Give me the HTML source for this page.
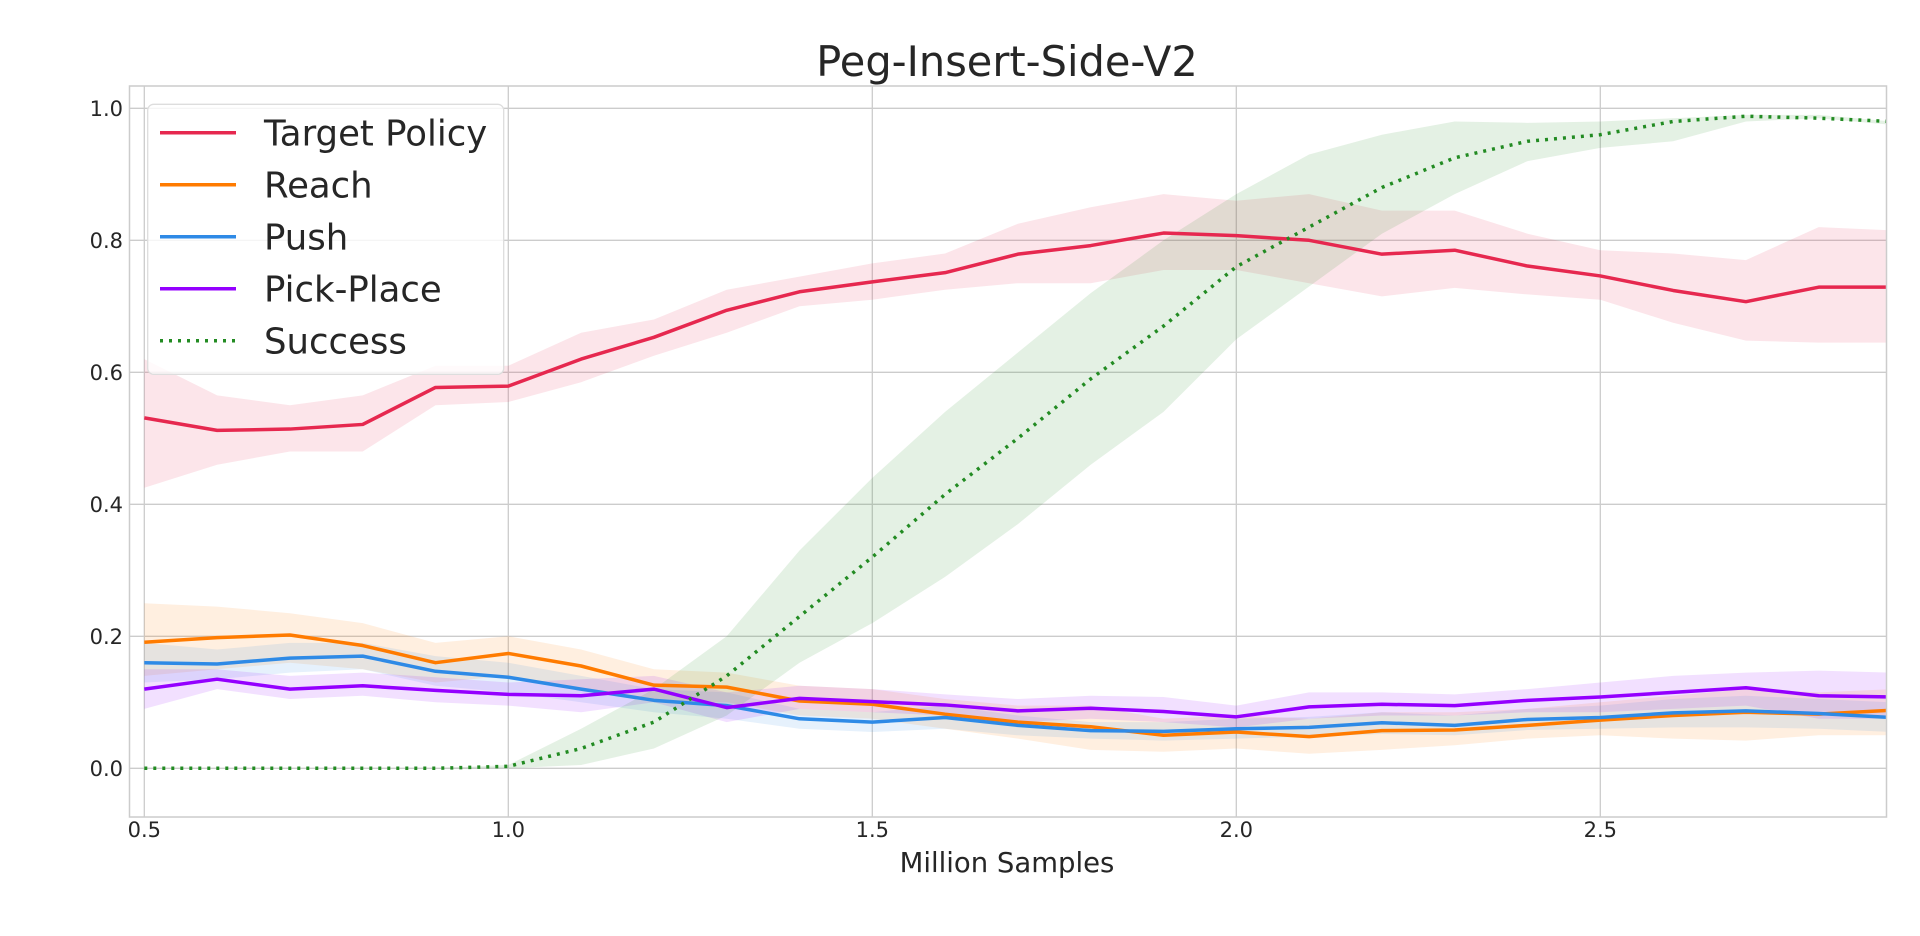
<!DOCTYPE html>
<html><head><meta charset="utf-8"><style>
html,body{margin:0;padding:0;background:#fff;}
svg{display:block;font-family:"DejaVu Sans","Liberation Sans",sans-serif;}
</style></head><body>
<svg id="chart" width="1920" height="936" viewBox="0 0 1920 936" xmlns="http://www.w3.org/2000/svg">
<defs><clipPath id="plotclip"><rect x="129.5" y="86" width="1757" height="731"/></clipPath></defs>
<text x="1007" y="76" text-anchor="middle" font-size="41.5" fill="#262626">Peg-Insert-Side-V2</text>
<text x="1007" y="872" text-anchor="middle" font-size="27.5" fill="#262626">Million Samples</text>
<g id="grid"></g>
<g id="bands" clip-path="url(#plotclip)"></g>
<g id="lines" clip-path="url(#plotclip)"></g>
<rect x="129.5" y="86" width="1757" height="731" fill="none" stroke="#cccccc" stroke-width="1.5"/>
<g id="ticks"></g>
<g id="legend"></g>
</svg>
<script>
const xs = [0.5,0.6,0.7,0.8,0.9,1.0,1.1,1.2,1.3,1.4,1.5,1.6,1.7,1.8,1.9,2.0,2.1,2.2,2.3,2.4,2.5,2.6,2.7,2.8,2.9];
const xTicks = [0.5,1.0,1.5,2.0,2.5];
const xTickLabels = ["0.5","1.0","1.5","2.0","2.5"];
const yTicks = [0,0.2,0.4,0.6,0.8,1.0];
const yTickLabels = ["0.0","0.2","0.4","0.6","0.8","1.0"];
const seriesNames = ["Target Policy","Reach","Push","Pick-Place","Success"];
const targetMean = [.531,.512,.514,.521,.577,.579,.62,.653,.694,.722,.737,.751,.779,.792,.811,.807,.80,.779,.785,.761,.746,.724,.707,.729,.729];
const targetLow = [.425,.46,.48,.48,.55,.555,.585,.625,.66,.70,.71,.725,.735,.735,.755,.755,.735,.715,.728,.718,.71,.675,.648,.645,.645];
const targetHigh = [.62,.565,.55,.565,.61,.61,.66,.68,.725,.745,.765,.78,.825,.85,.87,.86,.87,.845,.845,.81,.785,.78,.77,.82,.815];
const reachMean = [.191,.198,.202,.186,.16,.174,.155,.126,.123,.102,.097,.082,.07,.063,.05,.055,.048,.057,.058,.065,.073,.08,.085,.082,.088];
const reachLow = [.14,.15,.16,.15,.13,.14,.12,.1,.1,.08,.075,.06,.045,.028,.025,.03,.022,.028,.035,.045,.05,.045,.042,.05,.05];
const reachHigh = [.25,.245,.235,.22,.19,.2,.18,.15,.145,.125,.12,.105,.095,.095,.075,.08,.075,.085,.085,.09,.1,.11,.12,.115,.12];
const pushMean = [.16,.158,.167,.17,.147,.138,.12,.103,.095,.075,.07,.077,.065,.057,.056,.06,.062,.069,.065,.074,.077,.084,.087,.083,.077];
const pushLow = [.13,.135,.145,.15,.125,.115,.1,.085,.075,.06,.055,.06,.05,.045,.042,.045,.048,.052,.05,.058,.06,.062,.062,.06,.055];
const pushHigh = [.19,.18,.19,.19,.17,.16,.14,.12,.115,.09,.085,.095,.08,.07,.07,.075,.078,.085,.08,.09,.095,.105,.11,.105,.1];
const pickMean = [.12,.135,.12,.125,.118,.112,.11,.12,.092,.106,.101,.096,.087,.091,.086,.078,.093,.097,.095,.103,.108,.115,.122,.11,.108];
const pickLow = [.09,.12,.105,.11,.1,.095,.085,.1,.07,.09,.085,.08,.07,.075,.07,.062,.075,.08,.08,.085,.085,.09,.095,.075,.075];
const pickHigh = [.15,.15,.14,.145,.138,.13,.135,.14,.115,.125,.12,.112,.105,.11,.108,.095,.115,.115,.112,.12,.13,.14,.145,.148,.145];
const successMean = [0,0,0,0,0,.003,.03,.07,.14,.23,.32,.415,.5,.59,.67,.76,.82,.88,.925,.95,.96,.98,.988,.985,.98];
const successLow = [0,0,0,0,0,0,.005,.03,.08,.16,.22,.29,.37,.46,.54,.65,.73,.81,.87,.92,.94,.95,.98,.985,.975];
const successHigh = [0,0,0,0,0,.005,.06,.12,.2,.33,.44,.54,.63,.72,.8,.87,.93,.96,.98,.978,.98,.985,.99,.99,.98];

const NS="http://www.w3.org/2000/svg";
const X0=144.3, XS=728, Y0=768.3, YS=660;
function sx(v){return X0+(v-0.5)*XS;}
function sy(v){return Y0-v*YS;}
function mk(tag,attrs,parent){const e=document.createElementNS(NS,tag);for(const k in attrs)e.setAttribute(k,attrs[k]);parent.appendChild(e);return e;}

const grid=document.getElementById('grid'), ticks=document.getElementById('ticks');
xTicks.forEach((t,i)=>{
  const l=mk('line',{x1:sx(t),x2:sx(t),y1:86,y2:817,stroke:'#cccccc','stroke-width':1.3},grid);
  
  
  const tx=mk('text',{x:sx(t),y:837,'text-anchor':'middle','font-size':21,fill:'#262626'},ticks);
  tx.textContent=xTickLabels[i];
  
  
});
yTicks.forEach((t,i)=>{
  const l=mk('line',{x1:129.5,x2:1886,y1:sy(t),y2:sy(t),stroke:'#cccccc','stroke-width':1.3},grid);
  
  
  const tx=mk('text',{x:123,y:sy(t)+7.5,'text-anchor':'end','font-size':21,fill:'#262626'},ticks);
  tx.textContent=yTickLabels[i];
  
  
});

const series=[
 {m:targetMean,lo:targetLow,hi:targetHigh,c:'#e6284f',dash:null,n:'target-policy'},
 {m:reachMean,lo:reachLow,hi:reachHigh,c:'#ff7b00',dash:null,n:'reach'},
 {m:pushMean,lo:pushLow,hi:pushHigh,c:'#2e8ae6',dash:null,n:'push'},
 {m:pickMean,lo:pickLow,hi:pickHigh,c:'#9400ff',dash:null,n:'pick-place'},
 {m:successMean,lo:successLow,hi:successHigh,c:'#228b22',dash:'3,6',n:'success'}
];
const bands=document.getElementById('bands'), lines=document.getElementById('lines');
series.forEach(s=>{
  let d='M'+xs.map((x,i)=>sx(x)+','+sy(s.hi[i])).join(' L');
  for(let i=xs.length-1;i>=0;i--) d+=' L'+sx(xs[i])+','+sy(s.lo[i]);
  d+=' Z';
  const b=mk('path',{d:d,fill:s.c,'fill-opacity':0.12,stroke:'none'},bands);
  
  
});
series.forEach(s=>{
  const p=mk('polyline',{points:xs.map((x,i)=>sx(x)+','+sy(s.m[i])).join(' '),fill:'none',stroke:s.c,'stroke-width':3.5,'stroke-linejoin':'round'},lines);
  if(s.dash){p.setAttribute('stroke-dasharray',s.dash);p.setAttribute('stroke-linecap','butt');}
  
  
});

const lg=document.getElementById('legend');
const box=mk('rect',{x:147.7,y:104.3,width:356,height:270,rx:6,fill:'#ffffff','fill-opacity':0.8,stroke:'#dddddd','stroke-width':1.3},lg);


series.forEach((s,i)=>{
  const y=132.7+i*52;
  const l=mk('line',{x1:160,x2:236,y1:y,y2:y,stroke:s.c,'stroke-width':3.5},lg);
  if(s.dash){l.setAttribute('stroke-dasharray',s.dash);}
  
  
  const t=mk('text',{x:264,y:y+13,'font-size':35.5,fill:'#262626'},lg);
  t.textContent=seriesNames[i];
  
  
});
</script>
</body></html>
